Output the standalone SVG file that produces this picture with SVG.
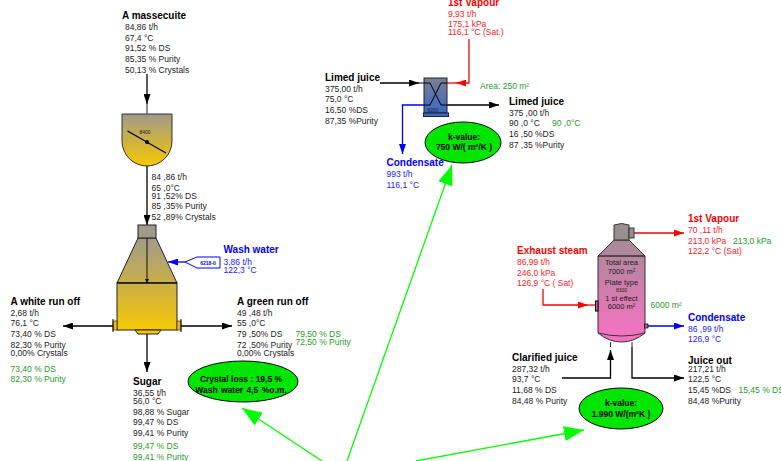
<svg xmlns="http://www.w3.org/2000/svg" width="781" height="461" viewBox="0 0 781 461">
<style>
text{font-family:"Liberation Sans",Arial,sans-serif;font-size:8.5px;fill:#222}
.h{font-size:10px;font-weight:bold;fill:#000}
.r{fill:#ff1a1a}.rh{fill:#f00;font-size:10px;font-weight:bold}
.b{fill:#1a1aff}.bh{fill:#00f;font-size:10px;font-weight:bold}
.g{fill:#1f9a2a}
.k{font-size:8.5px;font-weight:bold;fill:#000;text-anchor:middle}
.t{font-size:7.5px;fill:#222;text-anchor:middle}
.c{fill:none;stroke:#000;stroke-width:1.3}
.cr{fill:none;stroke:#f00;stroke-width:1.3}
.cb{fill:none;stroke:#00f;stroke-width:1.3}
.cg{fill:none;stroke:#0f0;stroke-width:1.3}
.v{stroke:#333;stroke-width:1}
.e{fill:#00e600;stroke:#000;stroke-width:1}
</style>
<defs>
<linearGradient id="gy" x1="0" y1="0" x2="0" y2="1"><stop offset="0" stop-color="#a09a8a"/><stop offset="1" stop-color="#f7c800"/></linearGradient>
<linearGradient id="gc" gradientUnits="userSpaceOnUse" x1="0" y1="238" x2="0" y2="332"><stop offset="0" stop-color="#a09a8a"/><stop offset="1" stop-color="#f7c800"/></linearGradient>
<linearGradient id="gb" x1="0" y1="0" x2="0" y2="1"><stop offset="0" stop-color="#7a7f90"/><stop offset="1" stop-color="#3a68c8"/></linearGradient>
<linearGradient id="gp" gradientUnits="userSpaceOnUse" x1="0" y1="225" x2="0" y2="342"><stop offset="0" stop-color="#9a8f90"/><stop offset="1" stop-color="#fb6fc4"/></linearGradient>
<marker id="a" markerUnits="userSpaceOnUse" markerWidth="11" markerHeight="7" refX="10" refY="3.500" orient="auto"><path d="M0,0L10,3.500L0,7Z" fill="#000"/></marker>
<marker id="as" markerUnits="userSpaceOnUse" markerWidth="5" markerHeight="4" refX="4" refY="2" orient="auto"><path d="M0,0L4,2L0,4Z" fill="#000"/></marker>
<marker id="ar" markerUnits="userSpaceOnUse" markerWidth="11" markerHeight="7" refX="10" refY="3.500" orient="auto"><path d="M0,0L10,3.500L0,7Z" fill="#f00"/></marker>
<marker id="ab" markerUnits="userSpaceOnUse" markerWidth="11" markerHeight="7" refX="10" refY="3.500" orient="auto"><path d="M0,0L10,3.500L0,7Z" fill="#00f"/></marker>
<marker id="ag" markerUnits="userSpaceOnUse" markerWidth="21" markerHeight="15" refX="20" refY="7.500" orient="auto"><path d="M0,0L20,7.500L0,15Z" fill="#0f0"/></marker>
</defs>
<g id="connectors">
<path class="c" d="M147,74V104" marker-end="url(#a)"/>
<path d="M147,104V114" stroke="#555" stroke-width="1.3"/>
<path class="c" d="M147,166V225" marker-end="url(#a)"/>
<path class="c" d="M113,326H63" marker-end="url(#a)"/>
<path class="c" d="M181,326H232" marker-end="url(#a)"/>
<path class="c" d="M147,334V372" marker-end="url(#a)"/>
<path class="cb" d="M185,262H168" marker-end="url(#ab)"/>
<path class="c" d="M380,83H419" marker-end="url(#a)"/>
<path d="M419,83H424" stroke="#000"/>
<path class="c" d="M447,105H499" marker-end="url(#a)"/>
<path class="cr" d="M469,39V83H456" marker-end="url(#ar)"/>
<path class="cr" d="M456,83H447"/>
<path class="cb" d="M424,105H402.500V154" marker-end="url(#ab)"/>
<path class="cr" d="M543,289V305H588" marker-end="url(#ar)"/>
<path class="cr" d="M588,305H595"/>
<path class="cb" d="M648,326H684" marker-end="url(#ab)"/>
<path class="cr" d="M634,233H684" marker-end="url(#ar)"/>
<path class="c" d="M562,378H610.500V350" marker-end="url(#a)"/>
<path class="c" d="M632,347V378H684" marker-end="url(#a)"/>
<path class="cg" d="M347,461L452,165" marker-end="url(#ag)"/>
<path class="cg" d="M322,461L242,408" marker-end="url(#ag)"/>
<path class="cg" d="M416,461L584,430" marker-end="url(#ag)"/>
</g>
<g id="vessel-8400">
<path class="v" d="M122,114H172V141A25,25 0 0 1 122,141Z" fill="url(#gy)"/>
<text x="145" y="134" text-anchor="middle" style="font-size:5px">8400</text>
<path d="M127.500,131L166,153" stroke="#000" stroke-width="1.200"/>
<circle cx="147" cy="142" r="2" fill="#000"/>
</g>
<g id="centrifuge">
<path d="M138,238H156L177,283H117Z" fill="url(#gc)" stroke="#222"/>
<rect x="138" y="225" width="18" height="13" fill="#a09a8a" stroke="#222"/>
<rect x="117" y="283" width="60" height="47" fill="url(#gc)" stroke="#222"/>
<path d="M117,283H177" stroke="#000" stroke-width="1.200"/>
<path d="M135,330H161L158,334H138Z" fill="#f7c800" stroke="#222"/>
<rect x="113" y="321" width="4" height="9" fill="#f0b810" stroke="#222" stroke-width=".6"/>
<rect x="177" y="321" width="4" height="9" fill="#f0b810" stroke="#222" stroke-width=".6"/>
<path d="M113,319V332M181,319V332" stroke="#000"/>
<path class="c" d="M147,238V283" style="stroke-width:.9" marker-end="url(#as)"/>
</g>
<g id="wash-tag">
<path d="M185,262L197,257H220V268H197Z" fill="#fff" stroke="#00f" stroke-width="1"/>
<text x="208" y="264.500" text-anchor="middle" style="font-size:5px;font-weight:bold;fill:#00f">6218-0</text>
</g>
<g id="heat-exchanger">
<rect x="424" y="78" width="23" height="35" fill="url(#gb)" stroke="#222"/>
<rect x="423.500" y="113" width="25" height="3.500" fill="#3a68c8" stroke="#223"/>
<path d="M424,83H430L441,105H447M447,83H441L430,105H424" fill="none" stroke="#000"/>
<text x="433" y="112" text-anchor="middle" style="font-size:5px">8200</text>
</g>
<g id="evaporator">
<path d="M614,240H629L645,256V333Q634,342 621.500,342Q609,342 598,333V256Z" fill="url(#gp)" stroke="#333"/>
<path d="M598,256H645" stroke="#000"/>
<path d="M598,333Q621.500,339 645,333" fill="none" stroke="#333"/>
<path d="M614,225L621.500,223.500L629,225V240H614Z" fill="#9a8f90" stroke="#333"/>
<rect x="629" y="228" width="5" height="10" fill="#9a8f90" stroke="#333"/>
<rect x="595.500" y="301" width="2.500" height="10" fill="#d060b0" stroke="#000"/>
<rect x="644.500" y="324" width="3.500" height="4" fill="#a06090" stroke="#000" stroke-width=".7"/>
<path d="M610.500,342V347M632,342V347" stroke="#333"/>
<text class="t" x="621.500" y="265">Total area</text>
<text class="t" x="621.500" y="273.500">7000 m²</text>
<text class="t" x="621.500" y="284.500">Plate type</text>
<text class="t" x="621.500" y="292" style="font-size:5px">8300</text>
<text class="t" x="621.500" y="300.500">1 st effect</text>
<text class="t" x="621.500" y="309">6000 m²</text>
</g>
<g id="a-massecuite">
<text class="h" x="122" y="19">A massecuite</text>
<text x="125" y="30">84,86  t/h</text><text x="125" y="41">67,4  °C</text><text x="125" y="51">91,52 % DS</text><text x="125" y="62">85,35 % Purity</text><text x="125" y="73">50,13 % Crystals</text>
</g>
<g id="massecuite-out">
<text x="151.500" y="180">84 ,86 t/h</text><text x="151.500" y="190.500">65 ,0°C</text><text x="151.500" y="198.500">91 ,52% DS</text><text x="151.500" y="209">85 ,35% Purity</text><text x="151.500" y="220">52 ,89% Crystals</text>
</g>
<g id="wash-water">
<text class="bh" x="223.500" y="252.500">Wash water</text>
<text class="b" x="223.500" y="265">3,86 t/h</text><text class="b" x="223.500" y="273">122,3 °C</text>
</g>
<g id="white-run-off">
<text class="h" x="10.500" y="305">A white run off</text>
<text x="10.500" y="316">2,68 t/h</text><text x="10.500" y="326">76,1 °C</text><text x="10.500" y="337">73,40 % DS</text><text x="10.500" y="348">82,30 % Purity</text><text x="10.500" y="356">0,00% Crystals</text>
<text class="g" x="10.500" y="372">73,40 % DS</text><text class="g" x="10.500" y="382">82,30 % Purity</text>
</g>
<g id="green-run-off">
<text class="h" x="237" y="305">A green run off</text>
<text x="237" y="316">49 ,48 t/h</text><text x="237" y="326">55 ,0°C</text><text x="237" y="337">79 ,50% DS</text><text x="237" y="348">72 ,50% Purity</text><text x="237" y="356">0,00% Crystals</text>
<text class="g" x="295.500" y="337">79,50 % DS</text><text class="g" x="295.500" y="345">72,50 % Purity</text>
</g>
<g id="sugar">
<text class="h" x="133" y="385">Sugar</text>
<text x="133" y="396">36,55 t/h</text><text x="133" y="404">56,0 °C</text><text x="133" y="414.500">98,88 % Sugar</text><text x="133" y="425">99,47 % DS</text><text x="133" y="436">99,41 % Purity</text>
<text class="g" x="133" y="449">99,47 % DS</text><text class="g" x="133" y="460">99,41 % Purity</text>
</g>
<g id="crystal-loss">
<ellipse class="e" cx="243" cy="381.500" rx="55" ry="20.500"/>
<text class="k" x="241" y="382">Crystal loss : 19,5 %</text><text class="k" x="241" y="393" style="word-spacing:1px">Wash water 4,5 %o.m.</text>
</g>
<g id="vapour-top">
<text class="rh" x="448" y="6">1st Vapour</text>
<text class="r" x="448" y="17">9,93 t/h</text><text class="r" x="448" y="27">175,1 kPa</text><text class="r" x="448" y="35">116,1 °C  (Sat.)</text>
</g>
<g id="limed-in">
<text class="h" x="325" y="81">Limed juice</text>
<text x="325" y="92">375,00 t/h</text><text x="325" y="102">75,0 °C</text><text x="325" y="113">16,50 %DS</text><text x="325" y="124">87,35 %Purity</text>
</g>
<text class="g" x="480" y="89">Area: 250 m²</text>
<g id="limed-out">
<text class="h" x="509" y="105">Limed juice</text>
<text x="509" y="116">375 ,00 t/h</text><text x="509" y="126">90 ,0 °C</text><text class="g" x="552" y="126">90 ,0°C</text><text x="509" y="137">16 ,50 %DS</text><text x="509" y="148">87 ,35 %Purity</text>
</g>
<g id="condensate-top">
<text class="bh" x="386.500" y="166">Condensate</text>
<text class="b" x="386.500" y="177">993  t/h</text><text class="b" x="386.500" y="188">116,1 °C</text>
</g>
<g id="k-top">
<ellipse class="e" cx="463" cy="142.500" rx="38" ry="20.500"/>
<text class="k" x="464" y="140">k-value:</text><text class="k" x="464" y="150">750 W/( m²/K )</text>
</g>
<g id="vapour-right">
<text class="rh" x="688" y="222">1st Vapour</text>
<text class="r" x="688" y="233">70 ,11 t/h</text><text class="r" x="688" y="244">213,0 kPa</text><text class="g" x="733" y="244">213,0 kPa</text><text class="r" x="688" y="254">122,2 °C (Sat)</text>
</g>
<g id="exhaust-steam">
<text class="rh" x="517" y="254">Exhaust steam</text>
<text class="r" x="517" y="265">86,99  t/h</text><text class="r" x="517" y="276">246,0  kPa</text><text class="r" x="517" y="286">126,9 °C ( Sat)</text>
</g>
<text class="g" x="650.500" y="308">6000 m²</text>
<g id="condensate-right">
<text class="bh" x="688" y="321">Condensate</text>
<text class="b" x="688" y="332">86 ,99 t/h</text><text class="b" x="688" y="342">126,9 °C</text>
</g>
<g id="clarified-juice">
<text class="h" x="512" y="361">Clarified juice</text>
<text x="512" y="372">287,32 t/h</text><text x="512" y="382">93,7 °C</text><text x="512" y="393">11,68 % DS</text><text x="512" y="404">84,48 % Purity</text>
</g>
<g id="juice-out">
<text class="h" x="688" y="364">Juice out</text>
<text x="688" y="372">217,21 t/h</text><text x="688" y="382">122,5 °C</text><text x="688" y="393">15,45 %DS</text><text class="g" x="738.500" y="393">15,45 % DS</text><text x="688" y="404">84,48 %Purity</text>
</g>
<g id="k-bottom">
<ellipse class="e" cx="621" cy="408.500" rx="42" ry="20.500"/>
<text class="k" x="621" y="406">k-value:</text><text class="k" x="621" y="417">1.990 W/(m²K )</text>
</g>
</svg>
